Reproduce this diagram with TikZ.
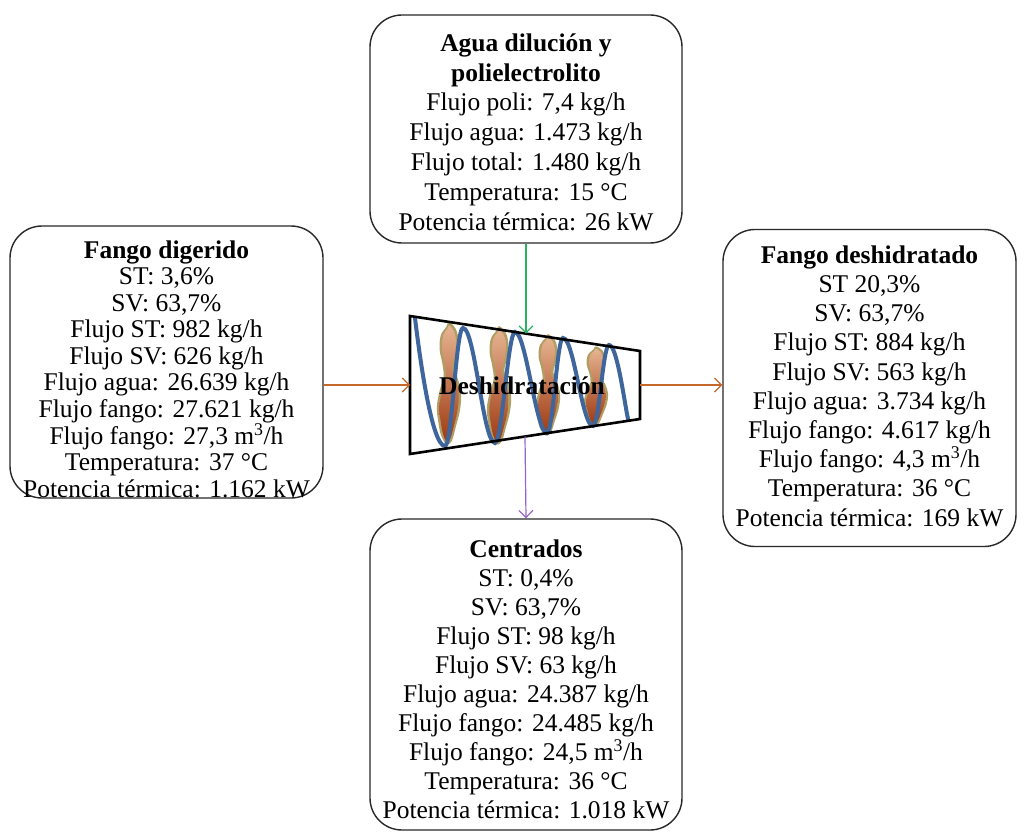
\documentclass[tikz,border=0pt]{standalone}
\usepackage{fontspec}
\setmainfont{Liberation Serif}
\usetikzlibrary{arrows.meta,calc}

\definecolor{boxline}{RGB}{40,40,40}
\definecolor{flowin}{RGB}{196,104,44}
\definecolor{flowpoly}{RGB}{40,180,95}
\definecolor{flowcent}{RGB}{150,100,200}
\definecolor{screwblue}{RGB}{62,102,156}
\definecolor{sludgetop}{RGB}{230,180,145}
\definecolor{sludgemid}{RGB}{204,124,72}
\definecolor{sludgebot}{RGB}{158,58,18}
\definecolor{sludgeedge}{RGB}{176,158,100}

\tikzset{
  infobox/.style={draw=boxline, line width=1.4pt, rounded corners=32pt, inner sep=0pt},
  info/.style={align=center, inner sep=0pt, font={\fontsize{25.5pt}{#1}\selectfont}},
  flow/.style={line width=1.2pt, -{Straight Barb[length=7pt,width=14pt]}},
  blob/.pic={
    \fill[sludgeedge] plot[smooth cycle, tension=0.6] coordinates {
      (0,-1) (5,6) (7,18) (6,32) (4,45) (7,58) (9,72) (8,88) (5,104) (2,118) (-2,121)
      (-6,112) (-8,98) (-9,84) (-7,68) (-4,54) (-5,40) (-7,26) (-6,12) (-2,4)};
    \shade[top color=sludgetop, middle color=sludgemid, bottom color=sludgebot]
      plot[smooth cycle, tension=0.6] coordinates {
      (0,2.5) (3.5,8) (5.2,18) (4.2,32) (2.2,45) (5.2,58) (7.2,72) (6.2,88) (3.4,104) (1,115) (-2,118)
      (-4.4,111) (-6.2,98) (-7.2,84) (-5.2,68) (-2.2,54) (-3.2,40) (-5.2,26) (-4.2,12) (-1.2,6)};
  }
}

\begin{document}
\begin{tikzpicture}[x=1pt,y=-1pt]
\useasboundingbox (0,0) rectangle (1028,837);

% ---- stream boxes ----
\node[infobox, minimum width=312pt, minimum height=228pt] (poly) at (526,129) {};
\node[info=29.8pt] (polytxt) at (526,132) {\textbf{Agua dilución y}\\\textbf{polielectrolito}\\Flujo poli: 7,4 kg/h\\Flujo agua: 1.473 kg/h\\Flujo total: 1.480 kg/h\\Temperatura: 15 °C\\Potencia térmica: 26 kW};

\node[infobox, minimum width=313pt, minimum height=272pt] (feed) at (166.5,362) {};
\node[info=26.55pt] (feedtxt) at (166.5,369) {\textbf{Fango digerido}\\ST: 3,6\%\\SV: 63,7\%\\Flujo ST: 982 kg/h\\Flujo SV: 626 kg/h\\Flujo agua: 26.639 kg/h\\Flujo fango: 27.621 kg/h\\Flujo fango: 27,3 m\textsuperscript{3}/h\\Temperatura: 37 °C\\Potencia térmica: 1.162 kW};

\node[infobox, minimum width=293pt, minimum height=317pt] (cake) at (869.5,388) {};
\node[info=29.2pt] (caketxt) at (869.5,386) {\textbf{Fango deshidratado}\\ST 20,3\%\\SV: 63,7\%\\Flujo ST: 884 kg/h\\Flujo SV: 563 kg/h\\Flujo agua: 3.734 kg/h\\Flujo fango: 4.617 kg/h\\Flujo fango: 4,3 m\textsuperscript{3}/h\\Temperatura: 36 °C\\Potencia térmica: 169 kW};

\node[infobox, minimum width=312pt, minimum height=311pt] (cent) at (526,674.5) {};
\node[info=29pt] (centtxt) at (526,679) {\textbf{Centrados}\\ST: 0,4\%\\SV: 63,7\%\\Flujo ST: 98 kg/h\\Flujo SV: 63 kg/h\\Flujo agua: 24.387 kg/h\\Flujo fango: 24.485 kg/h\\Flujo fango: 24,5 m\textsuperscript{3}/h\\Temperatura: 36 °C\\Potencia térmica: 1.018 kW};

% ---- centrifuge (tapered bowl with screw) ----
\coordinate (tl) at (410,316);
\coordinate (bl) at (410,454);
\coordinate (tr) at (640,351);
\coordinate (br) at (640,419);
\fill[white] (tl) -- (tr) -- (br) -- (bl) -- cycle;

\pic[xscale=1.35] at (449,323) {blob};
\pic[xscale=1.35, yscale=0.97] at (499,327) {blob};
\pic[xscale=1.35, yscale=0.83] at (548,335) {blob};
\pic[xscale=1.35, yscale=0.65] at (596,347) {blob};

\draw[screwblue, line width=4pt, line cap=round]
  (415,318) .. controls (420,360) and (432,446) .. (445,446)
  .. controls (452,446) and (456,328) .. (463,328)
  .. controls (475,328) and (483,443) .. (495,443)
  .. controls (502,443) and (508,332) .. (515,332)
  .. controls (526,332) and (536,433) .. (547,433)
  .. controls (553,433) and (557,338) .. (563,338)
  .. controls (574,338) and (582,426) .. (593,426)
  .. controls (599,426) and (603,345) .. (609,345)
  .. controls (617,345) and (624,400) .. (628,419);

\draw[black, line width=2.6pt, line join=miter] (tl) -- (tr) -- (br) -- (bl) -- cycle;
\node[font={\fontsize{25.5pt}{28pt}\selectfont\bfseries}] (dewater) at (522,386) {Deshidratación};

% ---- ports on the bowl ----
\coordinate (portin)  at ($(tl)!0.5!(bl)$);
\coordinate (portout) at ($(tr)!0.5!(br)$);
\coordinate (porttop) at ($(tl)!0.505!(tr)$);
\coordinate (portbot) at ($(bl)!0.5!(br)$);

% ---- streams ----
\draw[flow, flowin]   (feed.east |- portin) -- (portin);
\draw[flow, flowin]   (portout) -- (cake.west |- portout);
\draw[flow, flowpoly] (poly.south) -- (poly.south |- porttop);
\draw[flow, flowcent] (portbot) -- (cent.north);
\end{tikzpicture}
\end{document}
